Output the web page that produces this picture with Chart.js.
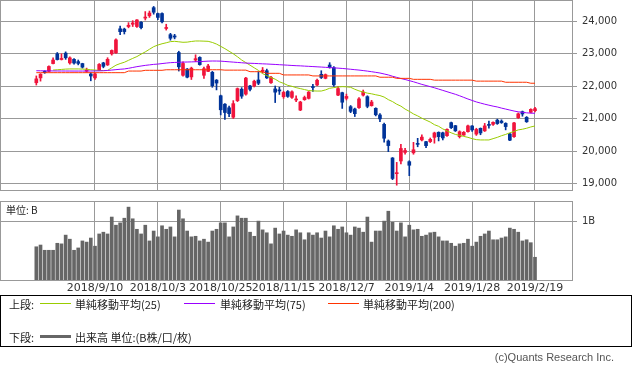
<!DOCTYPE html>
<html lang="ja">
<head>
<meta charset="utf-8">
<script src="https://cdn.jsdelivr.net/npm/chart.js@4.4.1/dist/chart.umd.min.js"></script>
<style>
  body { margin: 0; width: 633px; height: 371px; background: #fff; position: relative; overflow: hidden;
         font-family: "Noto Sans CJK JP", sans-serif; color: #222; }
  canvas { position: absolute; left: 0; }
  #price { top: 0; }
  #volume { top: 196px; }
  .t { position: absolute; font-size: 11px; line-height: 12px; white-space: nowrap; }
  .ln { position: absolute; height: 1px; width: 31px; }
  #box { position: absolute; left: 0; top: 295px; width: 632px; height: 52px; box-sizing: border-box; border: 1px solid #000; }
  #unit { left: 6px; top: 204px; font-size: 10px; }
  #copy { right: 19px; top: 351px; font-family: "Liberation Sans", sans-serif; color: #555; }
</style>
</head>
<body>
<canvas id="price" width="633" height="192"></canvas>
<canvas id="volume" width="633" height="100"></canvas>
<div class="t" id="unit">単位: B</div>
<div id="box"></div>
<div class="t" style="left:9px;top:298px">上段:</div>
<div class="ln" style="left:40px;top:303px;background:#99cc00"></div>
<div class="t" style="left:75px;top:298px">単純移動平均(25)</div>
<div class="ln" style="left:184px;top:303px;background:#9900ff"></div>
<div class="t" style="left:220px;top:298px">単純移動平均(75)</div>
<div class="ln" style="left:328px;top:303px;background:#ff3300"></div>
<div class="t" style="left:363px;top:298px">単純移動平均(200)</div>
<div class="t" style="left:9px;top:331px">下段:</div>
<div class="ln" style="left:40px;top:335px;height:3px;background:#666"></div>
<div class="t" style="left:75px;top:331px">出来高 単位:(B株/口/枚)</div>
<div class="t" id="copy">(c)Quants Research Inc.</div>
<script>
// daily bars, 2018/8/21 - 2019/2/19
const dates = [
  "2018/8/21","2018/8/22","2018/8/23","2018/8/24","2018/8/27","2018/8/28","2018/8/29","2018/8/30","2018/8/31","2018/9/3",
  "2018/9/4","2018/9/5","2018/9/6","2018/9/7","2018/9/10","2018/9/11","2018/9/12","2018/9/13","2018/9/14","2018/9/18",
  "2018/9/19","2018/9/20","2018/9/21","2018/9/25","2018/9/26","2018/9/27","2018/9/28","2018/10/1","2018/10/2","2018/10/3",
  "2018/10/4","2018/10/5","2018/10/9","2018/10/10","2018/10/11","2018/10/12","2018/10/15","2018/10/16","2018/10/17","2018/10/18",
  "2018/10/19","2018/10/22","2018/10/23","2018/10/24","2018/10/25","2018/10/26","2018/10/29","2018/10/30","2018/10/31","2018/11/1",
  "2018/11/2","2018/11/5","2018/11/6","2018/11/7","2018/11/8","2018/11/9","2018/11/12","2018/11/13","2018/11/14","2018/11/15",
  "2018/11/16","2018/11/19","2018/11/20","2018/11/21","2018/11/22","2018/11/26","2018/11/27","2018/11/28","2018/11/29","2018/11/30",
  "2018/12/3","2018/12/4","2018/12/5","2018/12/6","2018/12/7","2018/12/10","2018/12/11","2018/12/12","2018/12/13","2018/12/14",
  "2018/12/17","2018/12/18","2018/12/19","2018/12/20","2018/12/21","2018/12/25","2018/12/26","2018/12/27","2018/12/28","2019/1/4",
  "2019/1/7","2019/1/8","2019/1/9","2019/1/10","2019/1/11","2019/1/15","2019/1/16","2019/1/17","2019/1/18","2019/1/21",
  "2019/1/22","2019/1/23","2019/1/24","2019/1/25","2019/1/28","2019/1/29","2019/1/30","2019/1/31","2019/2/1","2019/2/4",
  "2019/2/5","2019/2/6","2019/2/7","2019/2/8","2019/2/12","2019/2/13","2019/2/14","2019/2/15","2019/2/18","2019/2/19"
];
const opens = [
  22100,22250,22450,22450,22690,22990,22815,23010,22710,22820, 22750,22690,22456,22370,22250,22490,22710,22650,22990,23020,
  23760,23750,23830,23900,23830,23960,24090,24160,24410,24230, 24230,23770,23580,23540,23030,22330,22520,22280,22800,22880,
  22330,22450,22420,22180,21700,21440,21330,21040,21550,21900, 21750,22000,22000,22185,22450,22470,22100,21910,21880,21670,
  21830,21650,21570,21260,21580,21620,21975,22030,22360,22236, 22646,22564,21720,21795,21620,21364,21293,21334,21720,21672,
  21395,21313,21108,20820,20308,19785,19302,19693,19957,19672, 19944,20224,20340,20287,20290,20420,20574,20560,20472,20872,
  20779,20441,20490,20595,20770,20520,20698,20620,20800,20820, 20950,20920,20850,20523,20441,21026,21210,21036,21190,21240
];
const highs = [
  22310,22380,22470,22620,22870,23030,22990,23050,22900,22840, 22800,22700,22550,22410,22390,22690,22730,22870,23110,23450,
  23840,23780,23950,24010,24040,23980,24290,24306,24448,24240, 24250,23900,23620,23590,23070,22740,22540,22580,22960,22900,
  22580,22670,22450,22200,21720,21460,21380,21550,21940,21950, 22270,22020,22180,22440,22570,22520,22300,22000,21960,21840,
  21860,21850,21700,21530,21690,21830,22050,22210,22470,22370, 22718,22600,21980,21810,21750,21400,21320,21640,21876,21700,
  21560,21330,21150,20860,20340,19800,19650,20205,20080,19700, 20266,20390,20494,20300,20400,20580,20590,20580,20680,20890,
  20790,20620,20600,20800,20780,20700,20710,20850,20920,20900, 20980,20960,20870,20540,20880,21170,21230,21060,21300,21340
];
const lows = [
  22030,22150,22390,22430,22680,22800,22800,22820,22670,22670, 22650,22550,22420,22160,22200,22470,22560,22630,22950,23000,
  23580,23600,23790,23830,23800,23760,24030,24110,24210,24040, 23940,23720,23410,23450,22460,22300,22250,22200,22750,22640,
  22230,22440,21960,21880,21110,20971,21060,21000,21520,21620, 21720,21850,21970,22040,22400,22230,22080,21490,21740,21620,
  21650,21620,21520,21240,21560,21600,21830,22010,22230,22220, 22550,21990,21700,21310,21570,21180,21060,21310,21690,21330,
  21380,21080,20900,20270,19980,19117,18948,19600,19900,19241, 19900,20130,20310,20100,20260,20240,20310,20340,20450,20690,
  20600,20400,20480,20580,20600,20480,20500,20600,20700,20790, 20820,20850,20650,20315,20420,21000,21070,20880,21170,21200
];
const closes = [
  22219,22362,22410,22601,22799,22813,22848,22869,22865,22707, 22696,22580,22487,22307,22373,22664,22604,22821,23094,23420,
  23672,23674,23869,23940,24033,23796,24120,24245,24270,24110, 23975,23783,23469,23506,22590,22694,22271,22549,22841,22658,
  22532,22614,22010,22091,21268,21184,21149,21457,21920,21687, 22243,21898,22147,22085,22486,22250,22269,21810,21846,21803,
  21680,21821,21583,21507,21646,21812,21952,22177,22262,22351, 22574,22036,21920,21501,21679,21220,21148,21603,21816,21375,
  21506,21115,20988,20393,20166,19155,19327,20077,20014,19561, 20038,20204,20427,20164,20359,20555,20442,20402,20666,20719,
  20622,20593,20574,20773,20649,20664,20556,20773,20788,20883, 20844,20874,20751,20333,20864,21144,21139,20900,21281,21302
];
// volume, billions of shares
const volumes = [
  0.57,0.60,0.51,0.51,0.51,0.63,0.62,0.77,0.70,0.51, 0.55,0.67,0.65,0.72,0.58,0.79,0.82,0.79,1.08,0.94,
  0.98,1.06,1.25,1.05,0.87,0.79,0.94,0.67,0.84,0.74, 0.93,0.87,0.91,0.74,1.20,1.05,0.84,0.74,0.75,0.67,
  0.70,0.65,0.84,0.87,0.98,0.98,0.74,0.91,1.10,1.06, 1.06,0.82,0.75,1.01,0.86,0.81,0.62,0.89,0.79,0.84,
  0.77,0.75,0.86,0.81,0.69,0.81,0.77,0.81,0.72,0.84, 0.74,0.93,0.87,0.91,0.81,0.77,0.91,0.89,0.82,1.08,
  0.65,0.84,0.84,1.01,1.18,0.99,0.84,0.98,0.74,0.94, 0.86,0.87,0.75,0.77,0.81,0.82,0.74,0.67,0.67,0.63,
  0.58,0.62,0.63,0.70,0.58,0.65,0.75,0.79,0.84,0.69, 0.69,0.72,0.74,0.89,0.87,0.82,0.67,0.69,0.64,0.39
];
const ma25 = [
  null,null,null,null,22490,22500,22510,22520,22525,22525, 22525,22520,22515,22500,22490,22480,22475,22480,22560,22640,
  22690,22730,22790,22850,22905,22980,23050,23130,23210,23260, 23300,23330,23365,23375,23360,23345,23350,23370,23385,23385,
  23380,23375,23340,23290,23220,23150,23070,22990,22900,22800, 22720,22640,22560,22480,22380,22320,22260,22210,22130,22080,
  22020,21990,21950,21920,21890,21860,21850,21845,21845,21880, 21930,21950,21970,21980,21975,21960,21900,21850,21815,21780,
  21760,21730,21705,21660,21580,21520,21440,21380,21290,21220, 21140,21080,21010,20950,20890,20810,20760,20680,20620,20560,
  20510,20480,20450,20420,20380,20350,20340,20340,20340,20380, 20420,20470,20510,20560,20600,20650,20670,20700,20740,20770
];
const ma75 = [
  22470,22468,22466,22465,22463,22462,22462,22461,22461,22460, 22460,22460,22461,22462,22463,22466,22470,22478,22490,22503,
  22515,22525,22545,22570,22595,22615,22635,22650,22665,22675, 22690,22705,22718,22725,22730,22735,22738,22742,22746,22750,
  22758,22765,22769,22768,22765,22755,22745,22735,22725,22715, 22705,22700,22695,22688,22682,22677,22670,22663,22655,22648,
  22640,22632,22625,22620,22612,22605,22598,22590,22583,22575, 22566,22558,22550,22540,22528,22515,22502,22490,22475,22458,
  22440,22420,22400,22370,22340,22300,22265,22230,22200,22165, 22130,22090,22050,22015,21980,21945,21905,21865,21825,21785,
  21745,21700,21650,21600,21555,21510,21475,21440,21410,21380, 21355,21320,21290,21260,21230,21205,21190,21175,21165,21160
];
const ma200 = [
  22410,22410,22410,22410,22410,22410,22410,22410,22410,22410, 22410,22410,22410,22410,22410,22410,22410,22410,22410,22410,
  22410,22410,22460,22460,22460,22460,22483,22483,22483,22483, 22483,22500,22500,22500,22500,22500,22500,22500,22500,22500,
  22500,22500,22500,22500,22500,22488,22488,22488,22488,22488, 22488,22440,22440,22440,22440,22390,22390,22390,22390,22340,
  22340,22340,22340,22340,22340,22340,22310,22310,22310,22310, 22310,22310,22310,22310,22310,22310,22310,22310,22310,22310,
  22310,22310,22270,22270,22270,22270,22235,22235,22235,22235, 22205,22205,22205,22205,22205,22180,22180,22180,22180,22180,
  22180,22180,22180,22180,22180,22150,22150,22150,22150,22150, 22150,22150,22115,22115,22115,22115,22115,22115,22085,22085
];
const tickDates = ["2018/9/10","2018/10/3","2018/10/25","2018/11/15","2018/12/7","2019/1/4","2019/1/28","2019/2/19"];
const priceTicks = [19000, 20000, 21000, 22000, 23000, 24000];
const volumeTicks = [1];

const UP = "#f0143c", DOWN = "#003399";
const GRID = "#999999";
const X_MIN = -8.43, X_MAX = 127.83;
const tickIdx = tickDates.map(d => dates.indexOf(d));
const candleColor = closes.map((c, i) => (c >= opens[i] ? UP : DOWN));

const framePlugin = {
  id: "frame",
  afterDraw(chart) {
    const { ctx, chartArea: a } = chart;
    ctx.save();
    ctx.strokeStyle = GRID;
    ctx.lineWidth = 1;
    ctx.strokeRect(a.left - 0.5, a.top - 0.5, a.right - a.left + 1, a.bottom - a.top + 1);
    ctx.restore();
  }
};

// keep the plot area exactly where the layout padding puts it
function noPad(s) {
  s.paddingTop = 0;
  s.paddingBottom = 0;
  s.paddingLeft = 0;
  s.paddingRight = 0;
}

function xScale(showLabels, height) {
  return {
    type: "linear",
    min: X_MIN,
    max: X_MAX,
    offset: false,
    grid: { offset: false, color: GRID, drawTicks: false },
    border: { display: false },
    ticks: {
      display: showLabels,
      autoSkip: false,
      maxRotation: 0,
      minRotation: 0,
      padding: 2,
      color: "#333",
      font: { family: "DejaVu Sans", size: 11 },
      callback: v => dates[v]
    },
    afterBuildTicks: s => { s.ticks = tickIdx.map(v => ({ value: v })); },
    afterFit: s => { s.height = height; noPad(s); }
  };
}

function yScale(min, max, ticks, fmt) {
  return {
    position: "right",
    min: min,
    max: max,
    grid: { color: GRID, tickLength: 5 },
    border: { display: false },
    ticks: {
      padding: 5,
      color: "#333",
      font: { family: "DejaVu Sans", size: 10 },
      callback: fmt
    },
    afterBuildTicks: s => { s.ticks = ticks.map(v => ({ value: v })); },
    afterFit: s => { s.width = 61; noPad(s); }
  };
}

const baseOptions = {
  responsive: false,
  animation: false,
  events: [],
  plugins: { legend: { display: false }, tooltip: { enabled: false } }
};

function maLine(values, color) {
  return {
    type: "line",
    data: values.map((v, i) => ({ x: i, y: v })),
    borderColor: color,
    borderWidth: 1,
    pointRadius: 0,
    fill: false,
    tension: 0,
    order: 0
  };
}

const priceChart = new Chart(document.getElementById("price"), {
  type: "bar",
  data: {
    datasets: [
      {
        data: dates.map((d, i) => ({ x: i, y: [lows[i], highs[i]] })),
        backgroundColor: candleColor,
        barThickness: 1,
        grouped: false,
        order: 2
      },
      {
        data: dates.map((d, i) => ({ x: i, y: [Math.min(opens[i], closes[i]), Math.max(opens[i], closes[i])] })),
        backgroundColor: candleColor,
        barThickness: 3,
        minBarLength: 1,
        grouped: false,
        order: 1
      },
      maLine(ma200, "#ff3300"),
      maLine(ma75, "#9900ff"),
      maLine(ma25, "#99cc00")
    ]
  },
  options: {
    ...baseOptions,
    layout: { padding: { left: 1, top: 1, right: 0, bottom: 0 } },
    scales: {
      x: xScale(false, 2),
      y: yScale(18800, 24615.4, priceTicks, v => v.toLocaleString("en-US"))
    }
  },
  plugins: [framePlugin]
});

const volumeChart = new Chart(document.getElementById("volume"), {
  type: "bar",
  data: {
    datasets: [
      {
        data: dates.map((d, i) => ({ x: i, y: volumes[i] })),
        backgroundColor: "#666666",
        barThickness: 3,
        grouped: false
      }
    ]
  },
  options: {
    ...baseOptions,
    layout: { padding: { left: 1, top: 6, right: 0, bottom: 0 } },
    scales: {
      x: xScale(true, 16),
      y: yScale(0, 1.338, volumeTicks, v => v + "B")
    }
  },
  plugins: [framePlugin]
});
</script>
</body>
</html>
